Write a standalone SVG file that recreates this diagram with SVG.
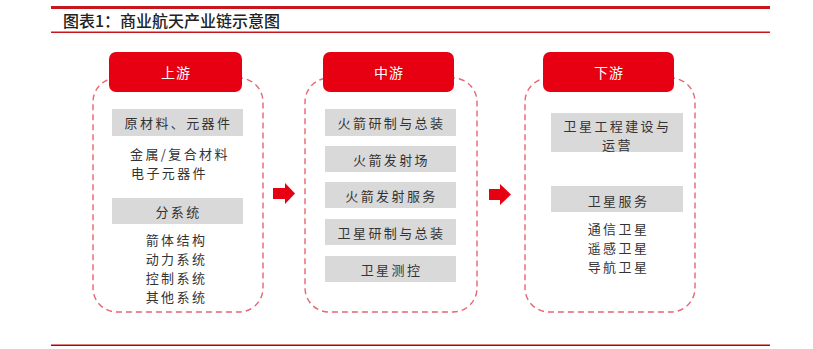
<svg xmlns="http://www.w3.org/2000/svg" width="813" height="349" viewBox="0 0 813 349">
<style>
text{font-family:"Noto Sans CJK SC","Noto Sans",sans-serif;dominant-baseline:central}
.title{font-size:16px;fill:#222;font-weight:500}
.hdr{fill:#e60012}
.htxt{font-size:14px;fill:#fff;text-anchor:middle;letter-spacing:1px}
.cont{fill:none;stroke:#e8666f;stroke-width:1.4;stroke-dasharray:6 4}
.gbox{fill:#d9d9d9}
.t{font-size:13px;fill:#333;letter-spacing:2.4px}
.c{text-anchor:middle}
.arrow{fill:#e60012}
</style>
<rect x="51" y="6" width="719" height="3" fill="#c8161d"/>
<rect x="51" y="31.5" width="719" height="1.5" fill="#c8161d"/>
<rect x="51" y="344.5" width="719" height="1.5" fill="#c00000"/>
<text class="title" x="63" y="20">图表1：商业航天产业链示意图</text>

<g id="upstream">
<rect class="cont" x="93" y="78" width="170" height="234" rx="24"/>
<rect class="hdr" x="109" y="52" width="133" height="40" rx="7"/>
<text class="htxt" x="176" y="72">上游</text>
<rect class="gbox" x="112" y="109" width="131" height="27"/>
<text class="t c" x="178.5" y="122.5">原材料、元器件</text>
<text class="t" x="130" y="153">金属/复合材料</text>
<text class="t" x="131" y="172">电子元器件</text>
<rect class="gbox" x="112" y="198" width="131" height="26"/>
<text class="t c" x="178.5" y="211">分系统</text>
<text class="t c" x="176.5" y="239">箭体结构</text>
<text class="t c" x="176.5" y="258">动力系统</text>
<text class="t c" x="176.5" y="277">控制系统</text>
<text class="t c" x="176.5" y="296">其他系统</text>
</g>

<g id="midstream">
<rect class="cont" x="305" y="78" width="172" height="234" rx="24"/>
<rect class="hdr" x="323" y="52" width="131" height="40" rx="7"/>
<text class="htxt" x="389" y="72">中游</text>
<rect class="gbox" x="325" y="109" width="131" height="27"/>
<text class="t c" x="391.5" y="122.5">火箭研制与总装</text>
<rect class="gbox" x="325" y="146" width="131" height="26"/>
<text class="t c" x="391.5" y="159">火箭发射场</text>
<rect class="gbox" x="325" y="182" width="131" height="26"/>
<text class="t c" x="391.5" y="195">火箭发射服务</text>
<rect class="gbox" x="325" y="219" width="131" height="26"/>
<text class="t c" x="391.5" y="232">卫星研制与总装</text>
<rect class="gbox" x="325" y="256" width="131" height="26"/>
<text class="t c" x="391.5" y="269">卫星测控</text>
</g>

<g id="downstream">
<rect class="cont" x="525" y="78" width="170" height="234" rx="24"/>
<rect class="hdr" x="543" y="52" width="131" height="40" rx="7"/>
<text class="htxt" x="609" y="72">下游</text>
<rect class="gbox" x="551" y="113" width="132" height="39"/>
<text class="t c" x="617.5" y="125">卫星工程建设与</text>
<text class="t c" x="617.5" y="144">运营</text>
<rect class="gbox" x="551" y="186" width="132" height="26"/>
<text class="t c" x="618.5" y="200">卫星服务</text>
<text class="t c" x="618.5" y="228">通信卫星</text>
<text class="t c" x="618.5" y="247">遥感卫星</text>
<text class="t c" x="618.5" y="266">导航卫星</text>
</g>

<g id="connectors">
<polygon class="arrow" points="273,188 285,188 285,183 295,193.5 285,204 285,199 273,199"/>
<polygon class="arrow" points="489,189 500,189 500,184 511,194.5 500,205 500,200 489,200"/>
</g>
</svg>
